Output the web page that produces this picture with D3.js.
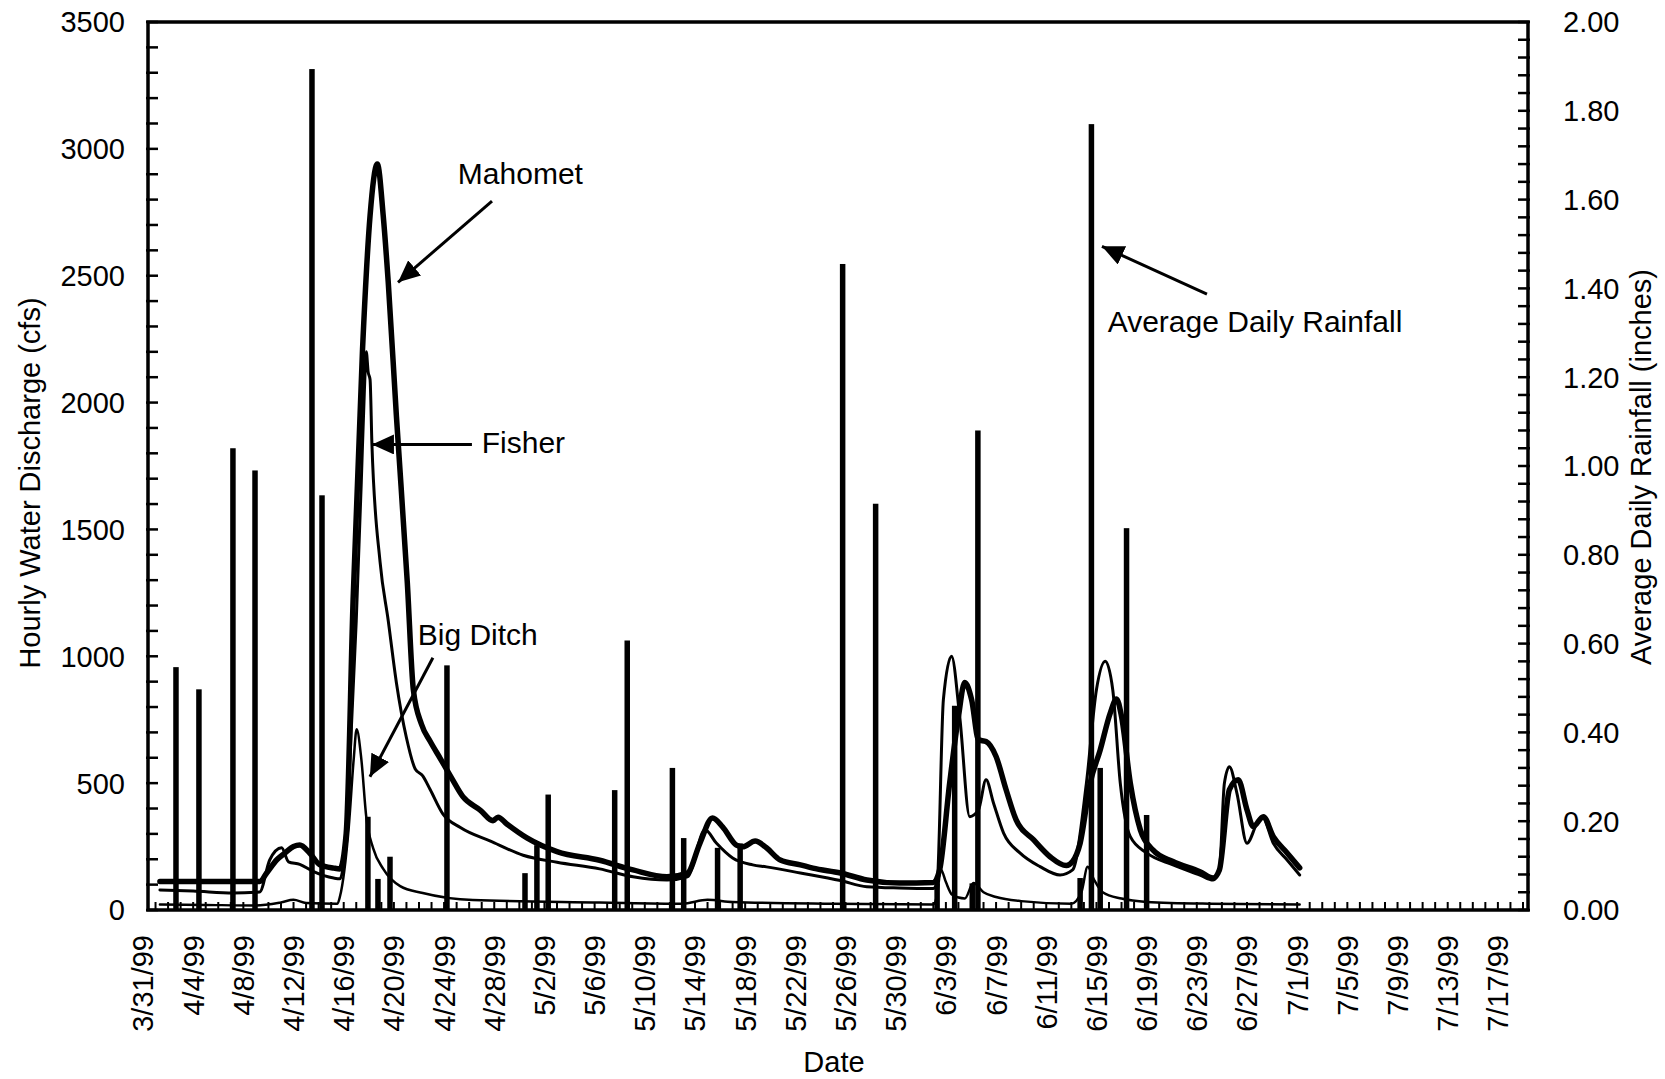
<!DOCTYPE html>
<html><head><meta charset="utf-8">
<script src="https://cdn.jsdelivr.net/npm/d3@7"></script>
<style>
body{margin:0;background:#fff;}
text{font-family:"Liberation Sans",Arial,Helvetica,sans-serif;fill:#000;}
</style>
</head><body>
<svg id="chart" width="1665" height="1079"></svg>
<script>
// ---------------- DATA ----------------
// time in days after 3/31/99 00:00
const dateTickLabels = ["3/31/99","4/4/99","4/8/99","4/12/99","4/16/99","4/20/99","4/24/99","4/28/99",
  "5/2/99","5/6/99","5/10/99","5/14/99","5/18/99","5/22/99","5/26/99","5/30/99","6/3/99","6/7/99",
  "6/11/99","6/15/99","6/19/99","6/23/99","6/27/99","7/1/99","7/5/99","7/9/99","7/13/99","7/17/99"];
const leftTicks = [0,500,1000,1500,2000,2500,3000,3500];
const rightTicks = [0,0.2,0.4,0.6,0.8,1.0,1.2,1.4,1.6,1.8,2.0];

const mahometDay = [1.35,5,9.3,9.86,10.65,11.3,12.0,12.5,13.3,14.1,15.2,15.7,16.2,16.75,17.5,18.1,18.68,19.15,19.55,20.2,21.07,
  21.55,22.2,22.9,23.7,24.5,25.5,26.9,27.9,28.3,29.0,30.6,33.0,36.4,39.06,41.77,43.4,44.4,45.4,46.2,47.3,47.8,48.8,49.7,50.8,
  52.4,53.4,55.6,57.7,60.3,63.0,63.5,64.3,65.0,65.5,66.05,66.6,67.2,68.0,68.8,69.6,71.0,72.3,73.6,74.1,74.7,75.5,76.3,77.1,77.6,
  78.0,78.7,79.5,80.5,82.1,84.25,85.3,85.8,86.6,87.3,88.0,88.5,89.3,90.1,91.2,92.2];
const mahometCfs = [112,112,112,146,197,224,250,256,224,178,165,162,303,1223,2210,2736,2940,2736,2474,1947,1290,
  868,732,664,597,529,447,393,352,366,339,284,230,196,158,131,146,264,363,328,256,249,272,245,197,
  178,165,146,118,106,108,158,500,762,897,829,671,664,605,474,355,276,210,175,191,263,500,631,776,832,
  763,500,316,237,191,151,126,158,474,513,395,329,368,289,225,166];

const fisherDay = [1.35,4,7.2,9.3,10.1,11.05,11.6,12.5,13.6,15.2,15.7,16.0,16.5,17.0,17.4,17.65,17.8,17.95,18.1,18.25,18.9,19.55,
  20.2,21.0,21.7,22.3,22.9,23.9,25.3,27.7,30.3,33.0,36.4,39.06,41.77,43.4,44.8,45.7,47.0,48.6,49.7,52.4,55.6,57.7,60.3,63.0,63.3,
  63.8,64.45,65.1,65.9,66.6,67.2,67.8,68.6,69.9,71.5,73.1,74.1,75.2,76.0,76.7,77.3,77.9,78.7,80.0,82.1,84.25,85.3,85.8,86.2,86.6,
  87.2,88.0,88.8,89.2,90.1,91.2,92.2];
const fisherCfs = [79,75,67,71,197,245,190,180,151,126,123,189,597,1140,1685,2050,2200,2120,2091,1835,1371,1140,
  896,679,556,529,474,379,325,271,216,188,162,131,118,131,316,264,205,178,170,146,116,92,87,85,106,
  829,1000,763,368,395,513,421,303,225,171,138,158,500,868,980,868,500,289,225,178,138,118,158,500,565,
  460,263,342,368,263,197,138];

const bigDitchDay = [1.35,5,9,11,12,13,15.5,15.7,16.4,16.8,17.03,17.4,17.8,18.35,19.15,20.5,22.3,26.3,36.4,43,45,47,55,63,
  63.3,63.6,64.0,64.5,65.5,66.2,67,68,70,74,74.8,75.3,75.8,76.5,78,80,85,92.2];
const bigDitchCfs = [22,20,18,30,40,28,25,53,325,597,712,597,366,243,162,94,67,39,30,25,40,32,25,22,
  60,160,110,60,45,106,70,51,35,25,70,170,120,70,45,32,25,22];

const rainDay = [2.63,4.46,7.17,8.93,13.47,14.27,17.93,18.73,19.69,24.23,30.45,31.4,32.3,37.6,38.6,42.2,43.1,45.8,47.6,
  55.77,58.4,63.3,64.7,66.1,66.55,74.7,75.6,76.3,78.4,80.0];
const rainIn = [0.547,0.497,1.04,0.99,1.894,0.934,0.21,0.07,0.12,0.551,0.083,0.146,0.26,0.27,0.607,0.32,0.162,0.14,0.15,
  1.455,0.915,0.06,0.46,0.06,1.08,0.072,1.77,0.32,0.86,0.214];

// annotations (text start + arrow from/to), in day / cfs units
const annText = ["Mahomet","Fisher","Big Ditch","Average Daily Rainfall"];
const annTextAt = [[25.1,2861],[27.0,1803],[21.9,1046],[76.9,2277]];
const annArrowFrom = [[27.82,2794],[26.22,1835],[23.11,994],[84.81,2427]];
const annArrowTo = [[20.33,2474],[18.25,1835],[18.09,525],[76.44,2616]];

// ---------------- LAYOUT ----------------
const L = 148, R = 1528, T = 22, B = 910;
const DAY = 864e5;
const base = Date.UTC(1999, 2, 31);
const toDate = d => new Date(base + d * DAY);
const parse = d3.utcParse("%m/%d/%y");

const x = d3.scaleUtc().domain([toDate(0.4), toDate(110.4)]).range([L, R]);
const yL = d3.scaleLinear().domain([0, 3500]).range([B, T]);
const yR = d3.scaleLinear().domain([0, 2]).range([B, T]);

const svg = d3.select("#chart");
const FS = 29;

// rainfall bars
svg.append("g").selectAll("rect").data(rainDay.map((d,i)=>({d, v: rainIn[i]})))
  .join("rect")
  .attr("x", p => x(toDate(p.d)) - 2.75)
  .attr("width", 5.5)
  .attr("y", p => yR(p.v))
  .attr("height", p => B - yR(p.v))
  .attr("fill", "#000");

// lines
const line = d3.line().x(p => x(toDate(p[0]))).y(p => yL(p[1])).curve(d3.curveMonotoneX);
function series(days, vals, w) {
  svg.append("path").datum(days.map((d,i)=>[d, vals[i]]))
    .attr("d", line).attr("fill","none").attr("stroke","#000")
    .attr("stroke-width", w).attr("stroke-linejoin","round").attr("stroke-linecap","round");
}
series(bigDitchDay, bigDitchCfs, 2.5);
series(fisherDay, fisherCfs, 3);
series(mahometDay, mahometCfs, 5.5);

// frame
svg.append("rect").attr("x", L).attr("y", T).attr("width", R-L).attr("height", B-T)
  .attr("fill","none").attr("stroke","#000").attr("stroke-width",3.5);

// left axis ticks (inside)
const leftMinor = d3.range(0, 3501, 100);
svg.append("g").selectAll("line").data(leftMinor).join("line")
  .attr("x1", L-2).attr("x2", L+10).attr("y1", d=>yL(d)).attr("y2", d=>yL(d))
  .attr("stroke","#000").attr("stroke-width",2.5);
svg.append("g").selectAll("text").data(leftTicks).join("text")
  .attr("x", 125).attr("y", d=>yL(d)).attr("dy","0.36em").attr("text-anchor","end")
  .attr("font-size", FS).text(d=>d);

// right axis ticks (inside)
const rightMinor = d3.range(0, 51).map(i => i*0.04);
svg.append("g").selectAll("line").data(rightMinor).join("line")
  .attr("x1", R-10).attr("x2", R+2).attr("y1", d=>yR(d)).attr("y2", d=>yR(d))
  .attr("stroke","#000").attr("stroke-width",2.5);
svg.append("g").selectAll("text").data(rightTicks).join("text")
  .attr("x", 1563).attr("y", d=>yR(d)).attr("dy","0.36em").attr("text-anchor","start")
  .attr("font-size", FS).text(d=>d3.format(".2f")(d));

// bottom axis ticks (daily, inside)
const labelDates = dateTickLabels.map(s => parse(s));
const dailyTicks = d3.utcDay.range(toDate(1), toDate(110.4));
svg.append("g").selectAll("line").data(dailyTicks).join("line")
  .attr("x1", d=>x(d)).attr("x2", d=>x(d)).attr("y1", B+1).attr("y2", B-8)
  .attr("stroke","#000").attr("stroke-width",2);
svg.append("g").selectAll("text").data(labelDates).join("text")
  .attr("transform", d=>`translate(${x(d)},935) rotate(-90)`)
  .attr("dy","0.36em").attr("text-anchor","end").attr("font-size", FS)
  .text((d,i)=>dateTickLabels[i]);

// axis titles
svg.append("text").attr("transform","translate(30,483) rotate(-90)").attr("dy","0.36em")
  .attr("text-anchor","middle").attr("font-size",FS).text("Hourly Water Discharge (cfs)");
svg.append("text").attr("transform","translate(1641,467) rotate(-90)").attr("dy","0.36em")
  .attr("text-anchor","middle").attr("font-size",FS).text("Average Daily Rainfall (inches)");
svg.append("text").attr("x",834).attr("y",1072).attr("text-anchor","middle")
  .attr("font-size",FS).text("Date");

// annotations
svg.append("defs").append("marker").attr("id","ah")
  .attr("viewBox","0 0 22 20").attr("refX",22).attr("refY",10)
  .attr("markerWidth",22).attr("markerHeight",20).attr("markerUnits","userSpaceOnUse")
  .attr("orient","auto")
  .append("path").attr("d","M0,0 L22,10 L0,20 Z").attr("fill","#000");
annText.forEach((t,i)=>{
  svg.append("text").attr("x", x(toDate(annTextAt[i][0]))).attr("y", yL(annTextAt[i][1]))
    .attr("font-size",30).text(t);
  svg.append("line")
    .attr("x1", x(toDate(annArrowFrom[i][0]))).attr("y1", yL(annArrowFrom[i][1]))
    .attr("x2", x(toDate(annArrowTo[i][0]))).attr("y2", yL(annArrowTo[i][1]))
    .attr("stroke","#000").attr("stroke-width",3).attr("marker-end","url(#ah)");
});
</script>
</body></html>
